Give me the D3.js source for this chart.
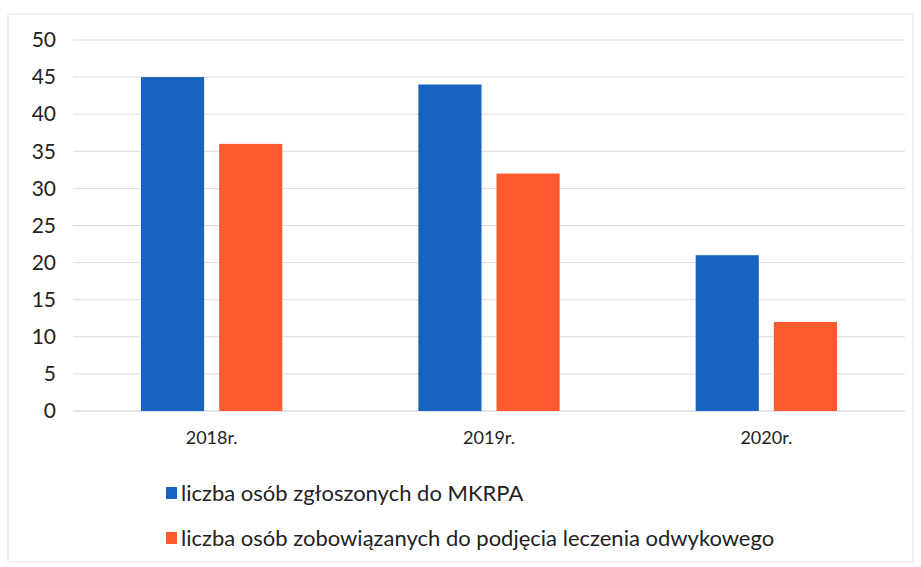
<!DOCTYPE html>
<html>
<head>
<meta charset="utf-8">
<script src="https://cdn.jsdelivr.net/npm/d3@7"></script>
<style>
  body { margin: 0; background: #fff; }
  text { font-family: Lato, "Open Sans", sans-serif; fill: #222; }
</style>
</head>
<body>
<script>
// dane z wykresu
var kategorie = ["2018r.", "2019r.", "2020r."];
var serie = ["liczba osób zgłoszonych do MKRPA", "liczba osób zobowiązanych do podjęcia leczenia odwykowego"];
var zgloszeni = [45, 44, 21];
var zobowiazani = [36, 32, 12];
var ticki = [0, 5, 10, 15, 20, 25, 30, 35, 40, 45, 50];
var kolory = ["#1763bd", "#fe5a2e"];

var w = 921, h = 567;
var svg = d3.select("body").append("svg")
    .attr("width", w)
    .attr("height", h);

// ramka
svg.append("rect")
    .attr("x", 8).attr("y", 14)
    .attr("width", 905).attr("height", 548)
    .attr("fill", "none")
    .attr("stroke", "#e4e4e4");

var x0 = d3.scaleBand().domain(kategorie).range([73, 905]).padding(0);
var x1 = d3.scaleBand().domain([0, 1]).range([0, x0.bandwidth()])
    .paddingInner(0.192).paddingOuter(0.87);
var y = d3.scaleLinear().domain([0, 50]).range([411, 40]);

// siatka
svg.append("g")
    .selectAll("line")
    .data(ticki)
    .enter()
    .append("line")
    .attr("x1", 73).attr("x2", 905)
    .attr("y1", function(d){ return y(d); })
    .attr("y2", function(d){ return y(d); })
    .attr("stroke", function(d){ return d === 0 ? "#c8c8c8" : "#dcdcdc"; })
    .attr("stroke-width", 1);

// oś Y
var osY = svg.append("g")
    .attr("transform", "translate(56,0)")
    .call(d3.axisLeft(y).tickValues(ticki).tickSize(0).tickPadding(0));
osY.select(".domain").remove();
osY.selectAll("text").style("font-size", "21px").attr("fill", "#222");

// oś X
var osX = svg.append("g")
    .attr("transform", "translate(0,425)")
    .call(d3.axisBottom(x0).tickSize(0).tickPadding(6));
osX.select(".domain").remove();
osX.selectAll("text").style("font-size", "18px").attr("fill", "#222");

// słupki
var dane = kategorie.map(function(k, i){
    return { kat: k, wart: [zgloszeni[i], zobowiazani[i]] };
});
var grupy = svg.selectAll("g.grupa")
    .data(dane)
    .enter()
    .append("g")
    .attr("class", "grupa")
    .attr("transform", function(d){ return "translate(" + x0(d.kat) + ",0)"; });

grupy.selectAll("rect")
    .data(function(d){ return d.wart; })
    .enter()
    .append("rect")
    .attr("x", function(d, i){ return x1(i); })
    .attr("width", x1.bandwidth())
    .attr("y", function(d){ return y(d); })
    .attr("height", function(d){ return y(0) - y(d); })
    .attr("fill", function(d, i){ return kolory[i]; });

// legenda
var leg = svg.selectAll("g.leg")
    .data(serie)
    .enter()
    .append("g")
    .attr("class", "leg")
    .attr("transform", function(d, i){ return "translate(166," + (493 + i * 45) + ")"; });
leg.append("rect")
    .attr("x", 0).attr("y", -6)
    .attr("width", 11).attr("height", 12)
    .attr("fill", function(d, i){ return kolory[i]; });
leg.append("text")
    .attr("x", 15).attr("y", 0)
    .attr("dy", "0.35em")
    .style("font-size", "22px")
    .text(function(d){ return d; });
</script>
</body>
</html>
